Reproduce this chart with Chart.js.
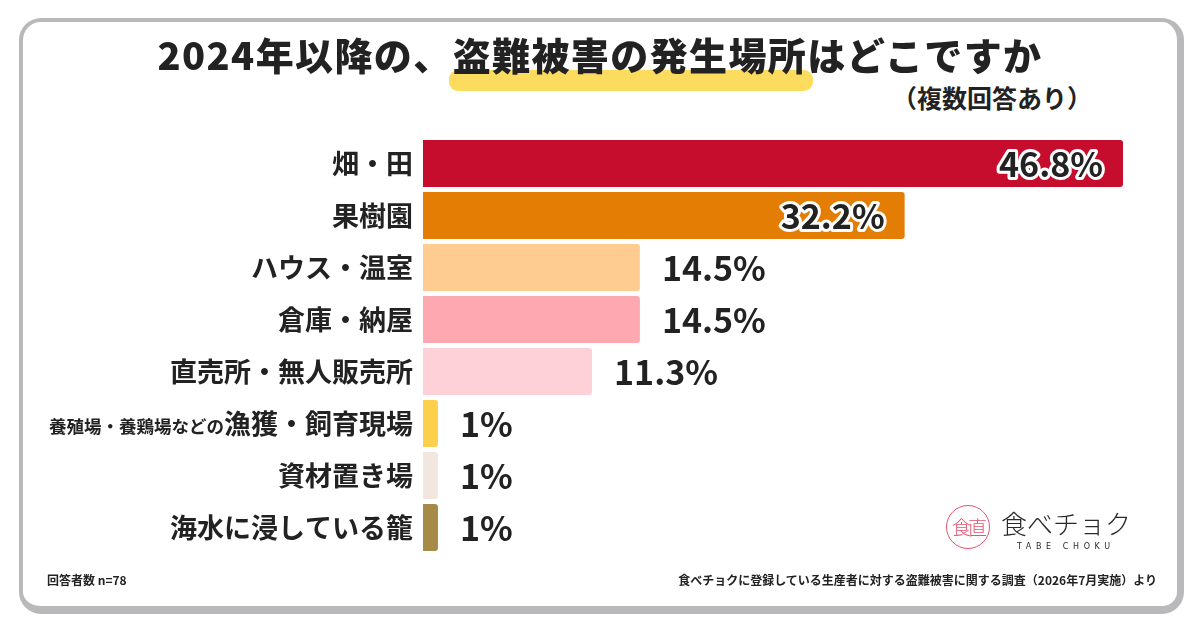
<!DOCTYPE html>
<html lang="ja">
<head>
<meta charset="UTF-8">
<title>盗難被害の発生場所</title>
<style>
    body{
        margin:0;
        width:1200px;
        height:630px;
        background:#fff;
        position:relative;
        overflow:hidden;
        font-family:"Noto Sans CJK JP", "Noto Sans", sans-serif;
        color:#222;
    }
    .card{
        position:absolute;
        left:19px; top:18px;
        width:1154px; height:584px;
        border:4px solid #b9b8bb;
        border-right-width:7px;
        border-bottom-width:8px;
        border-radius:22px;
        background:#fff;
    }
    .chart-box{
        position:absolute;
        left:0; top:0;
        width:1200px; height:630px;
    }
    .title{
        position:absolute;
        left:0; top:24px;
        width:1200px;
        text-align:center;
        font-size:38px;
        font-weight:900;
        letter-spacing:1.4px;
        line-height:60px;
        color:#222;
        z-index:1;
    }
    .mark{
        position:relative;
        display:inline-block;
    }
    .mark::before{
        content:"";
        position:absolute;
        left:-4px; right:-6px;
        top:46px; height:21px;
        background:#fcdc5f;
        border-radius:9px;
        z-index:-1;
    }
    .subtitle{
        position:absolute;
        right:108px; top:81px;
        font-size:25px;
        font-weight:700;
        line-height:32px;
    }
    .foot-left{
        position:absolute;
        left:47px; top:571px;
        font-size:12px; font-weight:700;
    }
    .foot-right{
        position:absolute;
        right:43px; top:571px;
        font-size:12px; font-weight:700;
    }
    .logo-circle{
        position:absolute;
        left:946px; top:505px;
        width:42px; height:42px;
        border:1.5px solid #e2536e;
        border-radius:50%;
        color:#e2536e;
        font-size:19px;
        line-height:42px;
        text-align:center;
        font-weight:300;
        letter-spacing:-3px;
    }
    .logo-text{
        position:absolute;
        left:1001px; top:507px;
        font-size:26px;
        font-weight:300;
        letter-spacing:0px;
        line-height:32px;
        color:#2a2a2a;
    }
    .logo-sub{
        position:absolute;
        left:1017px; top:542px;
        font-size:8px;
        letter-spacing:4.6px;
        font-family:"DejaVu Sans", sans-serif;
        color:#2a2a2a;
    }
</style>
</head>
<body>
    <div class="card"></div>
    <div class="title">2024年以降の、<span class="mark">盗難被害の発生場所</span>はどこですか</div>
    <div class="subtitle">（複数回答あり）</div>
    <div class="chart-box">
        <canvas id="mychart"></canvas>
    </div>
    <div class="logo-circle">食直</div>
    <div class="logo-text">食べチョク</div>
    <div class="logo-sub">TABE CHOKU</div>
    <div class="foot-left">回答者数 n=78</div>
    <div class="foot-right">食べチョクに登録している生産者に対する盗難被害に関する調査（2026年7月実施）より</div>

    <script src="https://cdn.jsdelivr.net/npm/chart.js@4/dist/chart.umd.min.js"></script>
    <script>
        // 発生場所 (カテゴリ) と回答率 (%)
        const places = ['畑・田', '果樹園', 'ハウス・温室', '倉庫・納屋', '直売所・無人販売所', '漁獲・飼育現場', '資材置き場', '海水に浸している籠'];
        const placePrefix = ['', '', '', '', '', '養殖場・養鶏場などの', '', ''];
        const rates = [46.8, 32.2, 14.5, 14.5, 11.3, 1, 1, 1];
        const rateLabels = ['46.8%', '32.2%', '14.5%', '14.5%', '11.3%', '1%', '1%', '1%'];
        const barColors = ['#c60d2d', '#e37d03', '#fecb91', '#fea8b1', '#fed1d9', '#fdd04b', '#f2e7de', '#a68a47'];

        const FONT = '"Noto Sans CJK JP", sans-serif';

        // 左側のカテゴリ名と数値ラベルを描く
        const labelPlugin = {
            id: 'labelPlugin',
            afterDatasetsDraw(chart) {
                const ctx = chart.ctx;
                const yScale = chart.scales.y;
                const meta = chart.getDatasetMeta(0);
                ctx.save();
                ctx.textBaseline = 'middle';

                // カテゴリ名
                places.forEach((name, i) => {
                    const y = yScale.getPixelForValue(i);
                    const x = chart.chartArea.left - 10;
                    ctx.fillStyle = '#222';
                    ctx.textAlign = 'right';
                    ctx.font = 'bold 27px ' + FONT;
                    ctx.fillText(name, x, y);
                    if (placePrefix[i]) {
                        const w = ctx.measureText(name).width;
                        ctx.font = 'bold 17.5px ' + FONT;
                        ctx.fillText(placePrefix[i], x - w, y + 3);
                    }
                });

                // 数値ラベル
                ctx.font = 'bold 34px ' + FONT;
                meta.data.forEach((bar, i) => {
                    const txt = rateLabels[i];
                    if (rates[i] > 20) {
                        ctx.textAlign = 'right';
                        ctx.lineJoin = 'round';
                        ctx.lineWidth = 6;
                        ctx.strokeStyle = '#fff';
                        ctx.strokeText(txt, bar.x - 20, bar.y + 1);
                        ctx.fillStyle = '#222';
                        ctx.fillText(txt, bar.x - 20, bar.y + 1);
                    } else {
                        ctx.textAlign = 'left';
                        ctx.fillStyle = '#222';
                        ctx.fillText(txt, bar.x + 22, bar.y + 1);
                    }
                });
                ctx.restore();
            }
        };

        const mychart = document.getElementById('mychart');
        new Chart(mychart, {
            type: 'bar',
            data: {
                labels: places,
                datasets: [
                    {
                        data: rates,
                        backgroundColor: barColors,
                        borderWidth: 0,
                        borderRadius: 3,
                        borderSkipped: 'start',
                        barPercentage: 0.9,
                        categoryPercentage: 1.0
                    }
                ]
            },
            options: {
                indexAxis: 'y',
                responsive: true,
                maintainAspectRatio: false,
                animation: false,
                layout: {
                    padding: {left: 423, right: 77, top: 137.5, bottom: 76.5}
                },
                plugins: {
                    legend: {display: false},
                    tooltip: {enabled: false}
                },
                scales: {
                    x: {
                        min: 0,
                        max: 46.8,
                        display: false
                    },
                    y: {
                        display: false
                    }
                }
            },
            plugins: [labelPlugin]
        });
    </script>
</body>
</html>
